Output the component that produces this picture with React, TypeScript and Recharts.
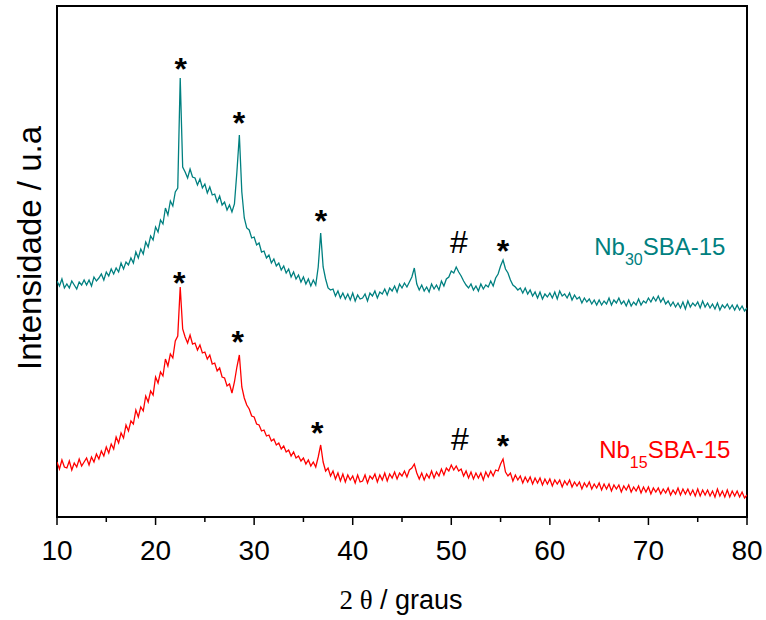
import { LineChart, Line, XAxis, YAxis, ReferenceArea, ReferenceDot } from 'recharts';

// 2θ grid of the scans (10° to 80°, 0.25° step)
const X_START = 10;
const X_STEP = 0.25;

// Nb30SBA-15 intensity (arbitrary units, offset trace)
const NB30 = [
  236, 231, 238, 229, 233, 229, 236, 232, 228, 235, 232, 237,
  232, 237, 231, 240, 236, 239, 243, 237, 245, 241, 248, 243,
  249, 245, 254, 248, 255, 252, 259, 254, 265, 259, 268, 263,
  275, 270, 281, 277, 290, 285, 297, 293, 309, 302, 316, 311,
  325, 329, 439, 350, 345, 339, 348, 340, 339, 332, 338, 329,
  333, 324, 330, 322, 323, 315, 321, 312, 315, 307, 312, 305,
  313, 345, 382, 325, 299, 289, 287, 279, 280, 272, 274, 265,
  266, 259, 262, 254, 258, 251, 254, 247, 251, 244, 248, 240,
  245, 238, 242, 235, 240, 233, 238, 231, 237, 232, 250, 284,
  250, 238, 229, 227, 228, 221, 226, 219, 224, 218, 223, 217,
  224, 216, 222, 218, 219, 223, 216, 224, 221, 226, 219, 225,
  223, 228, 222, 229, 226, 231, 225, 233, 229, 234, 230, 235,
  240, 249, 233, 227, 232, 226, 230, 225, 233, 228, 232, 227,
  236, 231, 238, 240, 246, 244, 250, 245, 241, 236, 232, 229,
  233, 227, 231, 226, 233, 228, 232, 230, 236, 231, 239, 243,
  251, 257, 248, 244, 237, 232, 230, 227, 229, 224, 229, 223,
  227, 221, 225, 219, 225, 218, 223, 220, 224, 219, 225, 218,
  226, 221, 223, 219, 224, 217, 222, 218, 220, 214, 219, 215,
  218, 213, 217, 212, 217, 212, 216, 213, 219, 212, 217, 214,
  219, 213, 216, 211, 217, 211, 215, 212, 218, 212, 216, 214,
  219, 215, 220, 216, 221, 215, 219, 213, 216, 211, 215, 210,
  214, 209, 215, 208, 216, 210, 214, 211, 215, 209, 216, 210,
  214, 209, 213, 208, 214, 207, 212, 209, 213, 208, 212, 207,
  212, 207, 211, 206, 209,
];

// Nb15SBA-15 intensity
const NB15 = [
  55, 48, 57, 50, 49, 56, 47, 54, 50, 58, 51, 55,
  59, 52, 60, 55, 63, 58, 66, 61, 70, 64, 73, 68,
  80, 74, 84, 79, 92, 86, 96, 93, 107, 100, 110, 106,
  121, 115, 126, 122, 140, 134, 145, 141, 158, 151, 163, 159,
  176, 181, 230, 188, 180, 174, 182, 173, 174, 167, 172, 164,
  165, 158, 162, 153, 154, 146, 149, 140, 139, 131, 133, 124,
  135, 150, 162, 130, 119, 112, 108, 101, 100, 93, 92, 86,
  87, 81, 82, 76, 78, 72, 74, 68, 71, 65, 67, 61,
  65, 59, 61, 56, 59, 53, 57, 51, 55, 50, 60, 72,
  55, 46, 49, 41, 46, 38, 44, 36, 43, 35, 42, 37,
  41, 34, 42, 35, 36, 42, 34, 41, 38, 43, 35, 42,
  37, 44, 36, 43, 39, 45, 38, 44, 41, 46, 40, 47,
  49, 53, 44, 38, 44, 37, 43, 39, 46, 39, 45, 41,
  48, 42, 49, 46, 52, 47, 51, 46, 48, 41, 46, 39,
  45, 38, 44, 39, 44, 37, 45, 40, 46, 41, 47, 46,
  53, 58, 45, 41, 44, 36, 42, 37, 41, 34, 40, 35,
  40, 33, 39, 34, 39, 32, 38, 33, 38, 31, 37, 33,
  37, 30, 36, 32, 37, 30, 35, 31, 35, 28, 34, 30,
  35, 28, 33, 29, 34, 27, 33, 28, 33, 26, 32, 28,
  32, 25, 31, 27, 32, 25, 30, 26, 31, 24, 30, 25,
  30, 23, 29, 25, 29, 23, 28, 24, 29, 22, 27, 23,
  29, 22, 28, 23, 28, 22, 27, 21, 28, 21, 27, 22,
  27, 21, 26, 20, 28, 21, 26, 20, 27, 20, 26, 21,
  26, 20, 25, 19, 22,
];

const X_TICKS = [10, 15, 20, 25, 30, 35, 40, 45, 50, 55, 60, 65, 70, 75, 80];

// reflection markers
const MARKS_NB30 = [
  { x: 22.55, y: 437, t: '*' },
  { x: 28.46, y: 383, t: '*' },
  { x: 36.78, y: 285, t: '*' },
  { x: 50.78, y: 264, t: '#' },
  { x: 55.25, y: 255, t: '*' },
];
const MARKS_NB15 = [
  { x: 22.41, y: 223, t: '*' },
  { x: 28.33, y: 164, t: '*' },
  { x: 36.41, y: 73, t: '*' },
  { x: 50.88, y: 67, t: '#' },
  { x: 55.25, y: 60, t: '*' },
];

const TEAL = '#008080';
const RED = '#ff0000';
const FONT = 'Arial, "Liberation Sans", sans-serif';

const data = NB30.map((v, i) => ({ x: X_START + i * X_STEP, nb30: v, nb15: NB15[i] }));

function AxisTick({ x, y, payload }: any) {
  const major = payload.value % 10 === 0;
  return (
    <g>
      <line x1={x} x2={x} y1={y} y2={y + (major ? 8 : 5)} stroke="#000" strokeWidth={1.5} />
      {major && (
        <text x={x} y={y + 43} textAnchor="middle" fontFamily={FONT} fontSize={28} fill="#000">
          {payload.value}
        </text>
      )}
    </g>
  );
}

function markShape(t: string) {
  return (props: any) => (
    <text
      x={props.cx}
      y={props.cy}
      textAnchor="middle"
      fontFamily={FONT}
      fontSize={32}
      fontWeight={t === '*' ? 'bold' : 'normal'}
      fill="#000"
    >
      {t}
    </text>
  );
}

function sampleLabel(sub: string, color: string) {
  return (props: any) => (
    <text x={props.cx} y={props.cy} fontFamily={FONT} fontSize={24} fill={color}>
      Nb
      <tspan dy={10} fontSize={16}>{sub}</tspan>
      <tspan dy={-10} fontSize={24}>SBA-15</tspan>
    </text>
  );
}

export default function App() {
  return (
    <div style={{ position: 'absolute', left: 0, top: 0 }}>
      <LineChart width={766} height={620} data={data} margin={{ top: 6, right: 19, bottom: 63, left: 57 }}>
        <XAxis
          dataKey="x"
          type="number"
          domain={[10, 80]}
          ticks={X_TICKS}
          interval={0}
          axisLine={false}
          tickLine={false}
          tickSize={0}
          tickMargin={0}
          height={40}
          tick={<AxisTick />}
          allowDataOverflow
        />
        <YAxis hide domain={[0, 511]} type="number" allowDataOverflow />
        <Line type="linear" dataKey="nb30" stroke={TEAL} strokeWidth={1.3} dot={false} isAnimationActive={false} />
        <Line type="linear" dataKey="nb15" stroke={RED} strokeWidth={1.3} dot={false} isAnimationActive={false} />
        <ReferenceArea x1={10} x2={80} y1={0} y2={511} fill="none" stroke="#000" strokeWidth={2} ifOverflow="visible" />
        {MARKS_NB30.concat(MARKS_NB15).map((m, i) => (
          <ReferenceDot key={i} x={m.x} y={m.y} r={0} shape={markShape(m.t)} ifOverflow="visible" />
        ))}
        <ReferenceDot x={64.5} y={262} r={0} shape={sampleLabel('30', TEAL)} ifOverflow="visible" />
        <ReferenceDot x={65.0} y={59} r={0} shape={sampleLabel('15', RED)} ifOverflow="visible" />
        <text x={401} y={609} textAnchor="middle" fontFamily={FONT} fontSize={27} fill="#000">
          <tspan fontFamily='"Times New Roman", "Liberation Serif", serif'>2 θ</tspan> / graus
        </text>
        <text x={41} y={248} transform="rotate(-90, 41, 248)" textAnchor="middle" fontFamily={FONT} fontSize={33} fill="#000">
          Intensidade / u.a
        </text>
      </LineChart>
    </div>
  );
}
